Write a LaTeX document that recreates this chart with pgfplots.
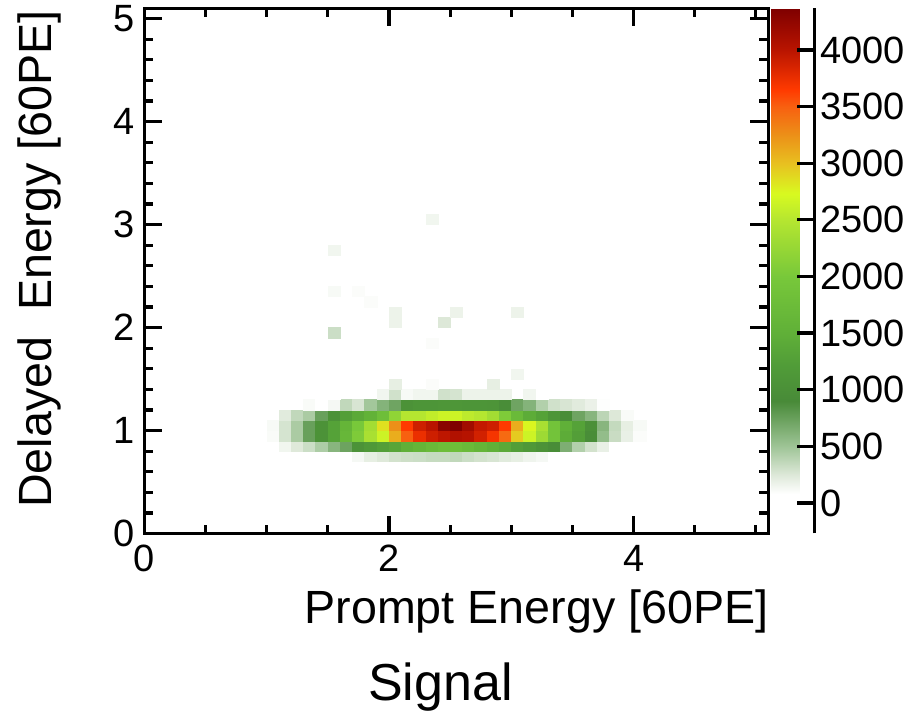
\documentclass[border=0pt]{standalone}
\usepackage{pgfplots}
\pgfplotsset{compat=1.18}
\usepackage{fontspec}
\setmainfont{Liberation Sans}
\begin{document}
\begin{tikzpicture}
\pgfkeys{/pgf/number format/assume math mode=true, /pgf/number format/1000 sep={}}
\useasboundingbox (-72.2pt,-88.75pt) rectangle (384.3pt,266.75pt);
\begin{axis}[
  at={(0,0)}, anchor=south west,
  scale only axis, width=311.85pt, height=262.6pt,
  xmin=0, xmax=5.1, ymin=0, ymax=5.1,
  xtick={0,2,4}, minor xtick={0.5,1,1.5,2.5,3,3.5,4.5,5},
  ytick={0,1,2,3,4,5}, minor ytick={0.2,0.4,0.6,0.8,1.2,1.4,1.6,1.8,2.2,2.4,2.6,2.8,3.2,3.4,3.6,3.8,4.2,4.4,4.6,4.8,5},
  tick align=inside,
  major tick length=9pt, minor tick length=4.5pt,
  axis line style={line width=1.6pt},
  tick style={black, line width=1.6pt},
  ticklabel style={font=\fontsize{19}{21}\selectfont},
  xticklabel style={inner sep=0pt, yshift=-5.75pt},
  yticklabel style={inner sep=0pt, xshift=-4.7pt},
  xlabel={Prompt Energy [60PE]},
  ylabel={Delayed~~Energy [60PE]},
  label style={font=\fontsize{23.3}{25}\selectfont, inner sep=0pt},
  xlabel style={at={(axis description cs:1,0)}, anchor=base east, yshift=-44.75pt, xshift=0.3pt},
  ylabel style={at={(axis description cs:0,1)}, anchor=base east, yshift=46.2pt, xshift=-0.85pt},
  colormap={signal}{
    rgb255(0pt)=(255,255,255)
    rgb255(35pt)=(255,255,255)
    rgb255(52pt)=(221,232,216)
    rgb255(77pt)=(158,196,150)
    rgb255(117pt)=(72,138,56)
    rgb255(147pt)=(80,155,56)
    rgb255(177pt)=(96,176,56)
    rgb255(227pt)=(120,200,58)
    rgb255(277pt)=(181,230,48)
    rgb255(300pt)=(216,250,32)
    rgb255(327pt)=(232,192,32)
    rgb255(352pt)=(236,144,24)
    rgb255(377pt)=(248,96,16)
    rgb255(392pt)=(255,58,0)
    rgb255(427pt)=(185,20,0)
    rgb255(463.8pt)=(127,0,0)
  },
  point meta min=-270, point meta max=4368,
  colorbar,
  colorbar style={
    width=21.65pt,
    at={(parent axis.north east)}, anchor=north west, xshift=-6.9pt,
    axis x line=none, axis y line*=right,
    ytick={0,500,1000,1500,2000,2500,3000,3500,4000},
    minor ytick={},
    tick align=inside,
    major tick length=9pt,
    scaled y ticks=false,
    y axis line style={line width=1.6pt},
    ytick style={black, line width=1.6pt},
    yticklabel style={font=\fontsize{19}{21}\selectfont, inner sep=0pt, xshift=2.5pt, anchor=west,
      /pgf/number format/assume math mode=true, /pgf/number format/1000 sep={}},
  },
]
\addplot[scatter, only marks, mark=square*, mark size=2.5745pt,
  scatter/use mapped color={draw=mapped color, fill=mapped color},
  mark options={xscale=1.1874, line width=0.15pt},
  point meta=explicit]
  table[meta=c] {
x y c
1.65 0.75 80
1.75 0.75 130
1.85 0.75 200
1.95 0.75 240
2.05 0.75 290
2.15 0.75 310
2.25 0.75 320
2.35 0.75 340
2.45 0.75 340
2.55 0.75 360
2.65 0.75 320
2.75 0.75 290
2.85 0.75 270
2.95 0.75 230
3.05 0.75 200
3.15 0.75 160
3.25 0.75 130
3.35 0.75 80
1.15 0.85 150
1.25 0.85 240
1.35 0.85 320
1.45 0.85 440
1.55 0.85 600
1.65 0.85 730
1.75 0.85 1050
1.85 0.85 1150
1.95 0.85 1250
2.05 0.85 1350
2.15 0.85 1500
2.25 0.85 1600
2.35 0.85 1700
2.45 0.85 1800
2.55 0.85 1800
2.65 0.85 1700
2.75 0.85 1600
2.85 0.85 1500
2.95 0.85 1400
3.05 0.85 1250
3.15 0.85 1150
3.25 0.85 1050
3.35 0.85 950
3.45 0.85 650
3.55 0.85 420
3.65 0.85 290
3.75 0.85 190
3.85 0.85 80
1.05 0.95 110
1.15 0.95 280
1.25 0.95 450
1.35 0.95 750
1.45 0.95 1050
1.55 0.95 1300
1.65 0.95 1650
1.75 0.95 2050
1.85 0.95 2400
1.95 0.95 2650
2.05 0.95 3100
2.15 0.95 3500
2.25 0.95 3750
2.35 0.95 3900
2.45 0.95 3980
2.55 0.95 4050
2.65 0.95 4020
2.75 0.95 3880
2.85 0.95 3700
2.95 0.95 3450
3.05 0.95 2950
3.15 0.95 2650
3.25 0.95 2300
3.35 0.95 1900
3.45 0.95 1450
3.55 0.95 1250
3.65 0.95 950
3.75 0.95 550
3.85 0.95 330
3.95 0.95 190
4.05 0.95 100
1.05 1.05 120
1.15 1.05 280
1.25 1.05 450
1.35 1.05 750
1.45 1.05 1050
1.55 1.05 1300
1.65 1.05 1600
1.75 1.05 2000
1.85 1.05 2350
1.95 1.05 2850
2.05 1.05 3250
2.15 1.05 3650
2.25 1.05 3900
2.35 1.05 4000
2.45 1.05 4300
2.55 1.05 4360
2.65 1.05 4150
2.75 1.05 3950
2.85 1.05 3900
2.95 1.05 3650
3.05 1.05 3100
3.15 1.05 2750
3.25 1.05 2400
3.35 1.05 1900
3.45 1.05 1500
3.55 1.05 1300
3.65 1.05 1000
3.75 1.05 600
3.85 1.05 350
3.95 1.05 200
4.05 1.05 120
1.15 1.15 230
1.25 1.15 360
1.35 1.15 450
1.45 1.15 750
1.55 1.15 1050
1.65 1.15 1250
1.75 1.15 1400
1.85 1.15 1550
1.95 1.15 1800
2.05 1.15 2200
2.15 1.15 2500
2.25 1.15 2500
2.35 1.15 2580
2.45 1.15 2650
2.55 1.15 2650
2.65 1.15 2550
2.75 1.15 2500
2.85 1.15 2350
2.95 1.15 2050
3.05 1.15 1700
3.15 1.15 1450
3.25 1.15 1300
3.35 1.15 1100
3.45 1.15 950
3.55 1.15 720
3.65 1.15 600
3.75 1.15 380
3.85 1.15 250
3.95 1.15 110
1.35 1.25 110
1.45 1.25 60
1.55 1.25 130
1.65 1.25 360
1.75 1.25 270
1.85 1.25 480
1.95 1.25 620
2.05 1.25 720
2.15 1.25 1050
2.25 1.25 1100
2.35 1.25 1100
2.45 1.25 1120
2.55 1.25 1120
2.65 1.25 1100
2.75 1.25 1100
2.85 1.25 1070
2.95 1.25 950
3.05 1.25 720
3.15 1.25 620
3.25 1.25 420
3.35 1.25 300
3.45 1.25 270
3.55 1.25 230
3.65 1.25 180
3.75 1.25 90
1.55 1.35 40
1.95 1.35 150
2.05 1.35 300
2.15 1.35 120
2.25 1.35 150
2.35 1.35 150
2.45 1.35 300
2.55 1.35 280
2.65 1.35 170
2.75 1.35 170
2.85 1.35 170
2.95 1.35 170
3.15 1.35 150
3.25 1.35 60
2.05 1.45 200
2.35 1.45 100
2.85 1.45 200
3.05 1.55 150
2.35 1.85 100
1.55 1.95 320
2.05 2.05 170
2.45 2.05 250
2.05 2.15 170
2.55 2.15 170
3.05 2.15 170
1.85 2.25 100
1.55 2.35 120
1.75 2.35 100
1.55 2.75 150
2.35 3.05 150
};
\end{axis}
\node[font=\fontsize{26}{28}\selectfont, anchor=base, inner sep=0pt] at (148pt,-83.25pt) {Signal};
\end{tikzpicture}
\end{document}
